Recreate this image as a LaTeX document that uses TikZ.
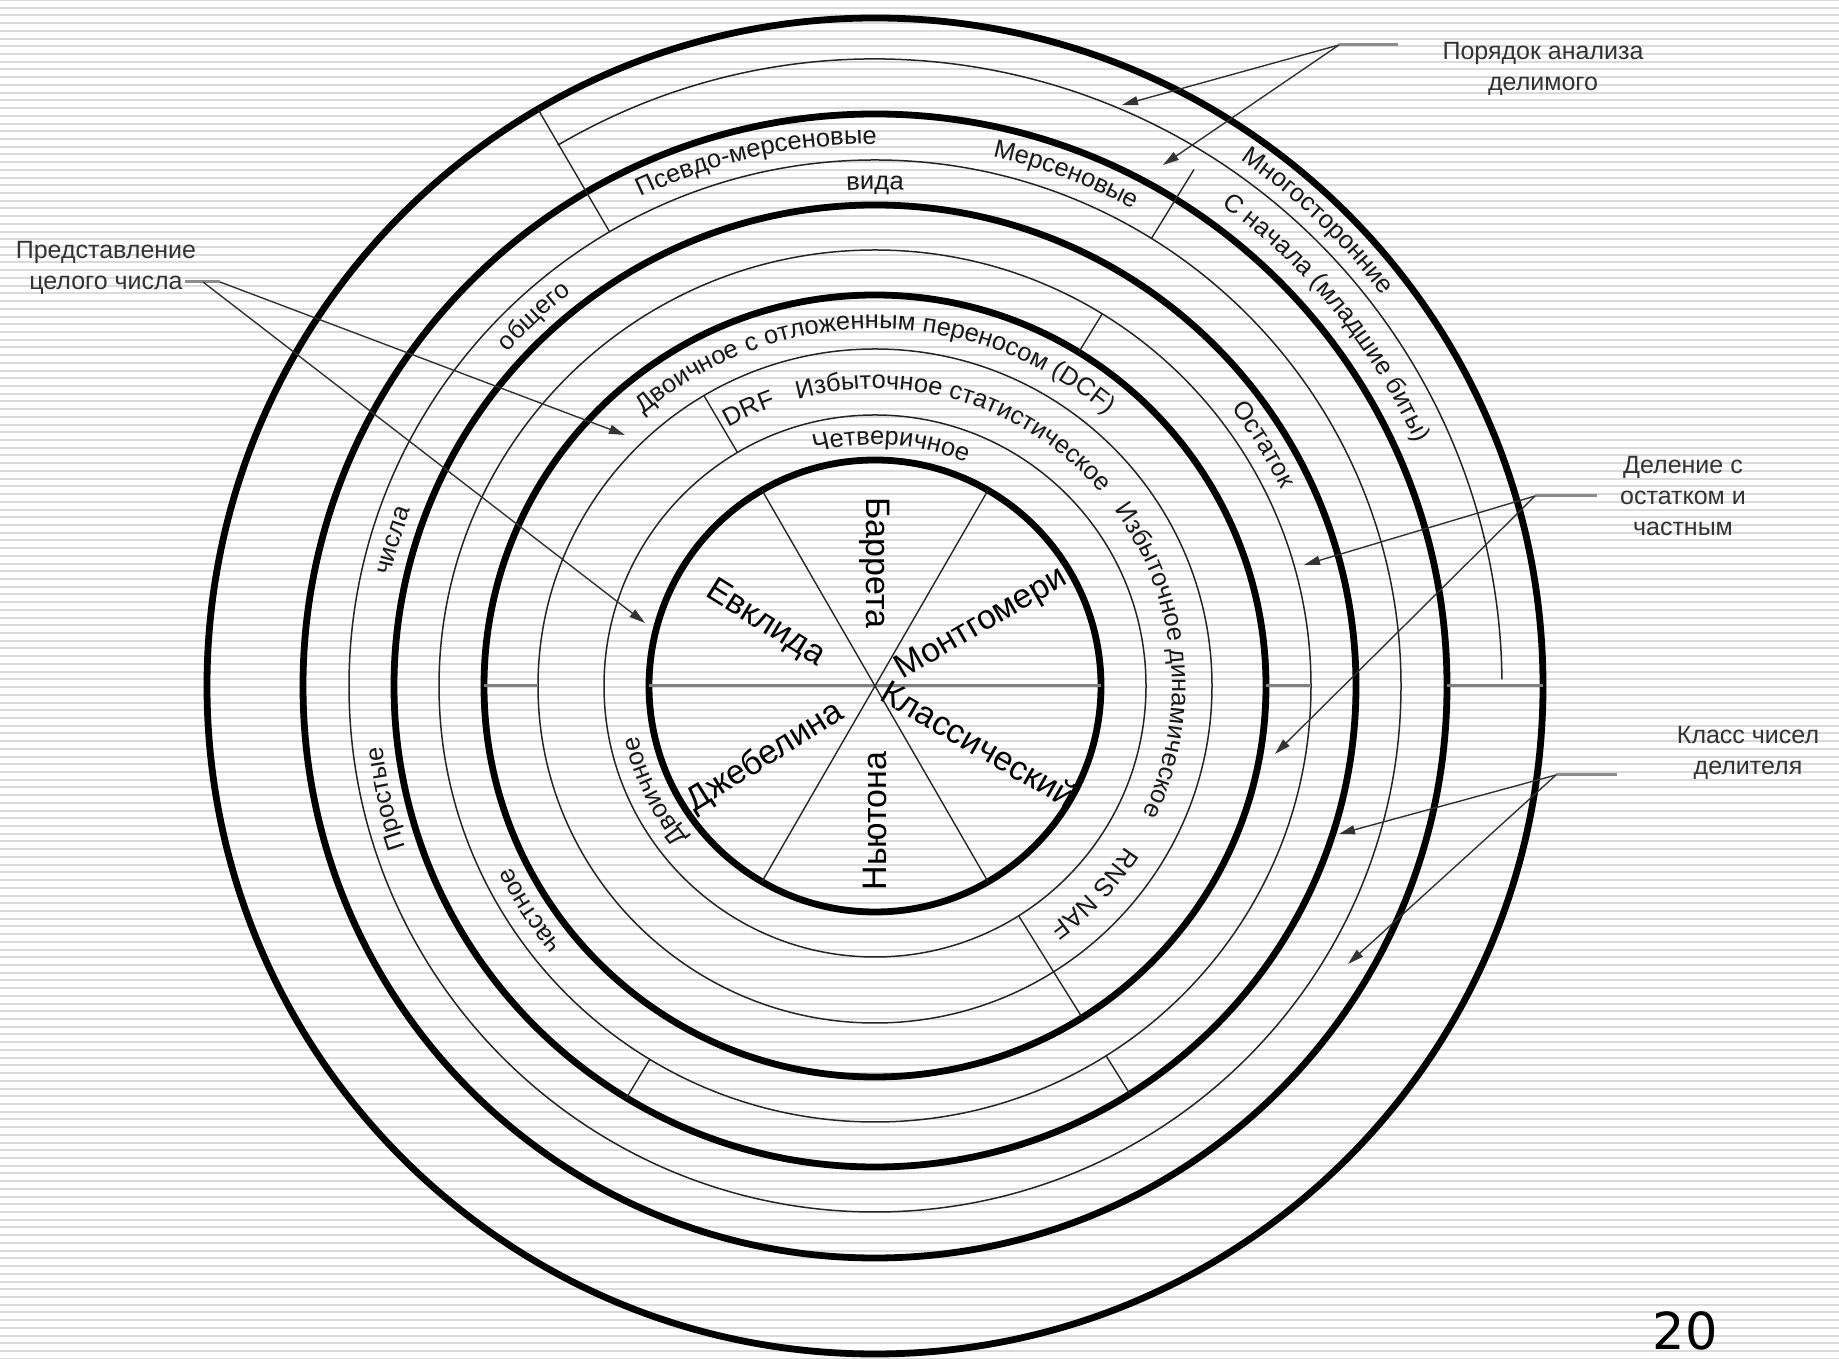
\documentclass[tikz,border=0pt]{standalone}
\usepackage{fontspec}
\setmainfont{Liberation Sans}
\newfontfamily\numfont{DejaVu Sans}
\usetikzlibrary{arrows.meta,decorations.text}
\definecolor{stripecol}{RGB}{218,218,218}
\definecolor{inkc}{RGB}{25,25,25}
\newcommand\ringfont{\fontsize{25.5}{30}\selectfont}
\newcommand\innerfont{\fontsize{34}{41}\selectfont}
\newcommand\lblfont{\fontsize{25}{31}\selectfont}
\newcommand\ringtext[3]{%
  \path[decorate,decoration={text along path,text align=center,text color=inkc,
    text={|\ringfont|#3}}] ({#1+75}:#2) arc[start angle={#1+75},end angle={#1-75},radius=#2];}
\tikzset{
  bigring/.style={draw=black,line width=6.8pt},
  smallring/.style={draw=black!85,line width=1.5pt},
  divline/.style={draw=black!85,line width=1.4pt},
  grayline/.style={draw=black!50,line width=3pt},
  leader/.style={draw=black!80,line width=1.4pt,-{Triangle[length=16pt,width=9pt]}},
  stubline/.style={draw=black!45,line width=3pt},
  innerlbl/.style={font=\innerfont,text=black,inner sep=0pt},
  sidelbl/.style={font=\lblfont,text=black!80,align=center,inner sep=0pt},
}
\begin{document}
\begin{tikzpicture}[x=1pt,y=1pt]
\useasboundingbox (0,0) rectangle (1839,1359);
\fill[white] (0,0) rectangle (1839,1359);
\foreach \i in {0,...,176}
  \draw[stripecol,line width=2pt] (0,{1359-7.72*\i}) -- (1839,{1359-7.72*\i});

\begin{scope}[shift={(875,673)}]
  % circles
  \draw[bigring] (0,0) circle[radius=668];
  \draw[bigring] (0,0) circle[radius=572];
  \draw[bigring] (0,0) circle[radius=481];
  \draw[bigring] (0,0) circle[radius=391];
  \draw[bigring] (0,0) circle[radius=226];
  \draw[smallring] (0,0) circle[radius=526];
  \draw[smallring] (0,0) circle[radius=436];
  \draw[smallring] (0,0) circle[radius=337];
  \draw[smallring] (0,0) circle[radius=271];
  \draw[smallring] (120.4:627) arc[start angle=120.4,end angle=0.6,radius=627];
  % gray horizontal dividers
  \draw[grayline] (180:226) -- (0:226);
  \draw[grayline] (180:337) -- (180:391);
  \draw[grayline] (0:391) -- (0:436);
  \draw[grayline] (0:572) -- (0:668);
  % sector lines of the inner circle
  \draw[divline] (60:226) -- (240:226);
  \draw[divline] (120:226) -- (300:226);
  % radial dividers
  \draw[divline] (120.3:526) -- (120.3:668);
  \draw[divline] (58.3:526) -- (58.3:607);
  \draw[divline] (58.6:391) -- (58.6:436);
  \draw[divline] (120.5:271) -- (120.5:337);
  \draw[divline] (-58:271) -- (-58:391);
  \draw[divline] (238.9:436) -- (238.9:481);
  \draw[divline] (-58:436) -- (-58:481);

  % ring texts
  \ringtext{46.4}{640.5}{Многосторонние}
  \ringtext{39.2}{592.5}{С начала (младшие биты)}
  \ringtext{102.7}{542}{Псевдо-мерсеновые}
  \ringtext{69.5}{542}{Мерсеновые}
  \ringtext{90}{496.5}{вида}
  \ringtext{132.7}{496.5}{общего}
  \ringtext{163.2}{496.5}{числа}
  \ringtext{193}{496.5}{Простые}
  \ringtext{31.9}{451.5}{Остаток}
  \ringtext{213}{406.5}{частное}
  \ringtext{90}{357}{Двоичное с отложенным переносом (DCF)}
  \ringtext{114.5}{297}{DRF}
  \ringtext{72.8}{297}{Избыточное статистическое}
  \ringtext{5.4}{297}{Избыточное динамическое}
  \ringtext{-43.4}{297}{RNS NAF}
  \ringtext{86.2}{241.5}{Четверичное}
  \ringtext{205.5}{241.5}{Двоичное}

  % inner sector labels
  \node[innerlbl,rotate=-90] (barr) at (90:123) {Баррета};
  \node[innerlbl,rotate=30] (mont) at (30:123) {Монтгомери};
  \node[innerlbl,rotate=-30] (klas) at (-29:119) {Классический};
  \node[innerlbl,rotate=90] (newt) at (270:135) {Ньютона};
  \node[innerlbl,rotate=32] (dzheb) at (213:131) {Джебелина};
  \node[innerlbl,rotate=-32] (evkl) at (150.5:126) {Евклида};
\end{scope}

% side labels
\node[sidelbl] (porl) at (1543,1290) {Порядок анализа\\делимого};
\node[sidelbl] (predl) at (106,1091) {Представление\\целого числа};
\node[sidelbl] (delenl) at (1683,863) {Деление с\\остатком и\\частным};
\node[sidelbl] (klassl) at (1748,606) {Класс чисел\\делителя};
\node[font=\numfont\fontsize{51}{60}\selectfont,inner sep=0pt] (pagenum) at (1685,28) {20};

% leader coordinates
\coordinate (porS) at (1339,1314); \coordinate (porE) at (1398,1314);
\coordinate (porT1) at (1122,1254); \coordinate (porT2) at (1163,1194);
\coordinate (predE) at (185,1077); \coordinate (predS) at (220,1077);
\coordinate (predS2) at (203,1077);
\coordinate (predT1) at (625,924); \coordinate (predT2) at (645,736);
\coordinate (delS) at (1535,863); \coordinate (delE) at (1597,863);
\coordinate (delT1) at (1304,794); \coordinate (delT2) at (1275,605);
\coordinate (klS) at (1556,584); \coordinate (klE) at (1617,584);
\coordinate (klT1) at (1339,525); \coordinate (klT2) at (1348,395);

\draw[stubline] (porS) -- (porE);
\draw[leader] (porS) -- (porT1);
\draw[leader] (porS) -- (porT2);
\draw[stubline] (predE) -- (predS);
\draw[leader] (predS) -- (predT1);
\draw[leader] (predS2) -- (predT2);
\draw[stubline] (delS) -- (delE);
\draw[leader] (delS) -- (delT1);
\draw[leader] (delS) -- (delT2);
\draw[stubline] (klS) -- (klE);
\draw[leader] (klS) -- (klT1);
\draw[leader] (klS) -- (klT2);
\end{tikzpicture}
\end{document}
